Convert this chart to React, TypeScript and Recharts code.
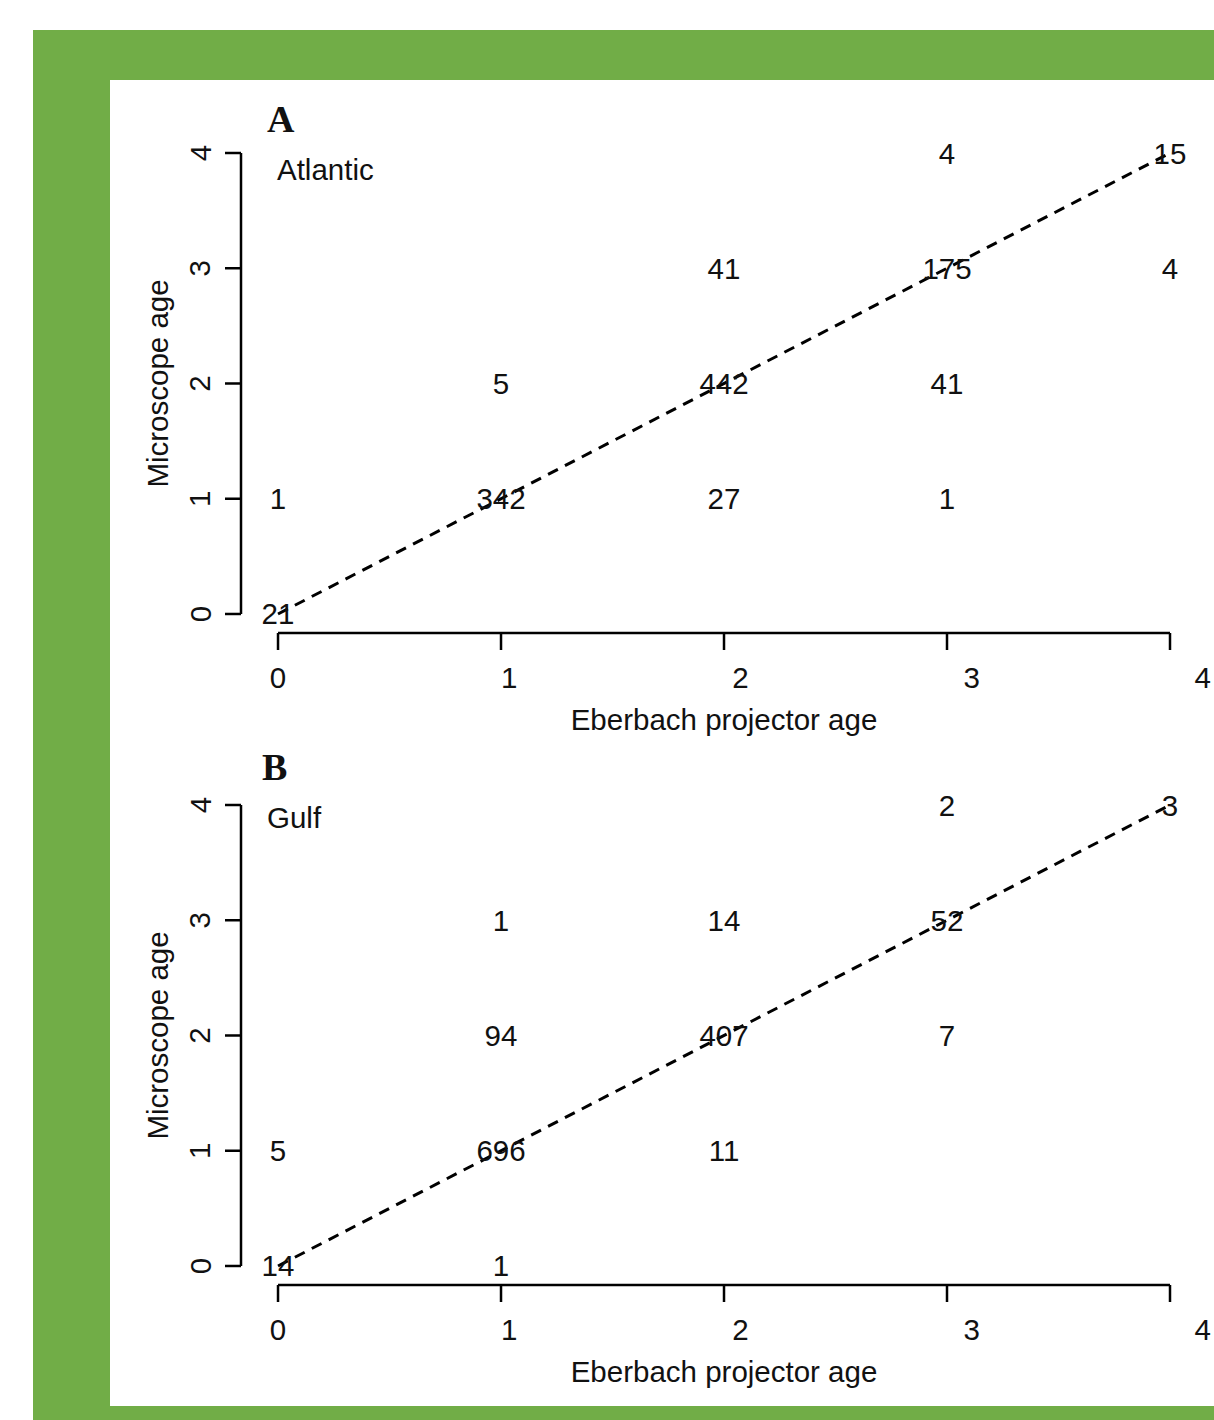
import { Label, ReferenceLine, Scatter, ScatterChart, XAxis, YAxis } from 'recharts'

const ageTicks = [0, 1, 2, 3, 4]

// Atlantic: projector age (x), microscope age (y), count of fish
const atlanticProjector = [0, 0, 1, 1, 2, 2, 2, 3, 3, 3, 3, 4, 4]
const atlanticMicroscope = [0, 1, 1, 2, 1, 2, 3, 1, 2, 3, 4, 3, 4]
const atlanticCounts = [21, 1, 342, 5, 27, 442, 41, 1, 41, 175, 4, 4, 15]

// Gulf
const gulfProjector = [0, 0, 1, 1, 1, 1, 2, 2, 2, 3, 3, 3, 4]
const gulfMicroscope = [0, 1, 0, 1, 2, 3, 1, 2, 3, 2, 3, 4, 4]
const gulfCounts = [14, 5, 1, 696, 94, 1, 11, 407, 14, 7, 52, 2, 3]

const FONT = '"Liberation Sans", Arial, Helvetica, sans-serif'
const FONT_SIZE = 29.5
const GREEN = '#71ad47'

const X_MIN = -0.166
const Y_MIN = -0.165
const LABEL_DRIFT = 8.2

const toPoints = (xs: number[], ys: number[], ns: number[]) =>
  xs.map((x, i) => ({ x, y: ys[i], n: ns[i] }))

const CountLabel = (props: any) => (
  <text
    x={props.cx}
    y={props.cy}
    textAnchor="middle"
    dominantBaseline="central"
    fontFamily={FONT}
    fontSize={FONT_SIZE}
    fill="#111"
  >
    {props.payload.n}
  </text>
)

const XTick = ({ x, y, payload }: any) => (
  <text
    x={x + payload.value * LABEL_DRIFT}
    y={y}
    textAnchor="middle"
    dominantBaseline="central"
    fontFamily={FONT}
    fontSize={FONT_SIZE}
    fill="#111"
  >
    {payload.value}
  </text>
)

const YTick = ({ x, y, payload }: any) => (
  <text
    x={x}
    y={y}
    transform={`rotate(-90, ${x}, ${y})`}
    textAnchor="middle"
    dominantBaseline="central"
    fontFamily={FONT}
    fontSize={FONT_SIZE}
    fill="#111"
  >
    {payload.value}
  </text>
)

const XTitle = ({ viewBox }: any) => (
  <text
    x={viewBox.x + ((2 - X_MIN) / (4 - X_MIN)) * viewBox.width}
    y={viewBox.y + 86}
    textAnchor="middle"
    dominantBaseline="central"
    fontFamily={FONT}
    fontSize={FONT_SIZE}
    fill="#111"
  >
    Eberbach projector age
  </text>
)

const YTitle = ({ viewBox }: any) => {
  const cx = viewBox.x + 17
  const cy = viewBox.y + (2 / (4 - Y_MIN)) * viewBox.height
  return (
    <text
      x={cx}
      y={cy}
      transform={`rotate(-90, ${cx}, ${cy})`}
      textAnchor="middle"
      dominantBaseline="central"
      fontFamily={FONT}
      fontSize={FONT_SIZE}
      fill="#111"
    >
      Microscope age
    </text>
  )
}

type PanelProps = {
  top: number
  data: { x: number; y: number; n: number }[]
}

function AgePanel({ top, data }: PanelProps) {
  return (
    <div style={{ position: 'absolute', left: 0, top }}>
      <ScatterChart
        width={1214}
        height={660}
        margin={{ top: 73, right: 44, left: 141, bottom: 7 }}
      >
        <XAxis
          type="number"
          dataKey="x"
          domain={[X_MIN, 4]}
          ticks={ageTicks}
          axisLine={false}
          tickLine={{ stroke: '#000', strokeWidth: 2.5 }}
          tickSize={17}
          tickMargin={27}
          height={100}
          tick={<XTick />}
        >
          <Label content={<XTitle />} />
        </XAxis>
        <YAxis
          type="number"
          dataKey="y"
          domain={[Y_MIN, 4]}
          ticks={ageTicks}
          axisLine={false}
          tickLine={{ stroke: '#000', strokeWidth: 2.5 }}
          tickSize={16}
          tickMargin={25}
          width={100}
          tick={<YTick />}
        >
          <Label content={<YTitle />} />
        </YAxis>
        <ReferenceLine
          segment={[{ x: 0, y: Y_MIN }, { x: 4, y: Y_MIN }]}
          stroke="#000"
          strokeWidth={2.5}
          ifOverflow="visible"
        />
        <ReferenceLine
          segment={[{ x: X_MIN, y: 0 }, { x: X_MIN, y: 4 }]}
          stroke="#000"
          strokeWidth={2.5}
          ifOverflow="visible"
        />
        <ReferenceLine
          segment={[{ x: 0, y: 0 }, { x: 4, y: 4 }]}
          stroke="#000"
          strokeWidth={3}
          strokeDasharray="11 8"
          ifOverflow="visible"
        />
        <Scatter data={data} shape={<CountLabel />} isAnimationActive={false} />
      </ScatterChart>
    </div>
  )
}

const textStyle = (left: number, top: number, size: number): React.CSSProperties => ({
  position: 'absolute',
  left,
  top,
  fontSize: size,
  lineHeight: `${size}px`,
  fontFamily: FONT,
  color: '#111',
  whiteSpace: 'nowrap',
})

const letterStyle = (left: number, top: number): React.CSSProperties => ({
  ...textStyle(left, top, 38),
  fontFamily: '"Liberation Serif", "Times New Roman", serif',
  fontWeight: 'bold',
})

export default function App() {
  return (
    <div
      style={{
        position: 'absolute',
        left: 0,
        top: 0,
        width: 1214,
        height: 1420,
        background: '#fff',
        overflow: 'hidden',
      }}
    >
      <div
        style={{
          position: 'absolute',
          left: 33,
          top: 30,
          width: 1214 - 33,
          height: 1420 - 30,
          background: GREEN,
        }}
      />
      <div
        style={{
          position: 'absolute',
          left: 110,
          top: 80,
          width: 1214 - 110,
          height: 1406 - 80,
          background: '#fff',
        }}
      />
      <AgePanel top={80} data={toPoints(atlanticProjector, atlanticMicroscope, atlanticCounts)} />
      <AgePanel top={732} data={toPoints(gulfProjector, gulfMicroscope, gulfCounts)} />

      <div style={letterStyle(267, 100)}>A</div>
      <div style={textStyle(277, 155, FONT_SIZE)}>Atlantic</div>
      <div style={letterStyle(262, 748)}>B</div>
      <div style={textStyle(267, 803, FONT_SIZE)}>Gulf</div>
    </div>
  )
}
